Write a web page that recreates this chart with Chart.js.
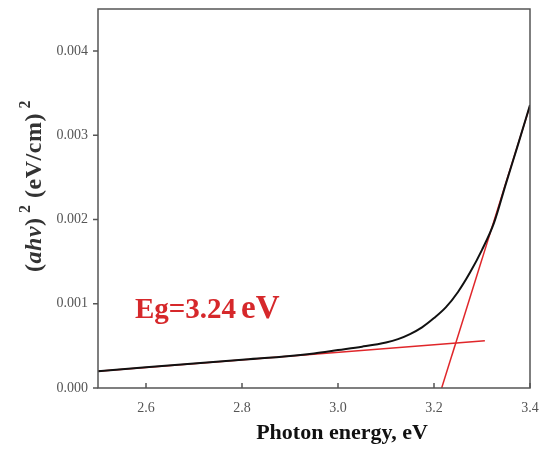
<!DOCTYPE html>
<html lang="en">
<head>
    <meta charset="UTF-8">
    <title>Tauc plot</title>
    <style>
        body, html {
            margin: 0;
            background: #fff;
        }
        #wrap {
            width: 539px;
            height: 450px;
        }
    </style>
</head>
<body>
    <div id="wrap"><canvas id="taucChart"></canvas></div>
    <script src="https://cdn.jsdelivr.net/npm/chart.js"></script>
    <script>
        // measured curve (photon energy in eV, (ahv)^2)
        const energy = [2.5, 2.6, 2.7, 2.8, 2.9, 2.95, 3.0, 3.05, 3.1, 3.125, 3.15, 3.175, 3.2, 3.225, 3.25, 3.275, 3.3, 3.325, 3.35, 3.375, 3.4];
        const absorb = [0.00020, 0.000245, 0.00029, 0.000335, 0.00038, 0.00041, 0.00045, 0.00049, 0.00054, 0.00058, 0.00064, 0.00072, 0.00083, 0.00096, 0.00114, 0.00137, 0.00164, 0.00196, 0.00243, 0.00289, 0.00336];

        // fitted lines (end points)
        const edgeFitX = [3.216, 3.4];
        const edgeFitY = [0, 0.00335];
        const baseFitX = [2.5, 3.306];
        const baseFitY = [0.0002, 0.00056];

        const xTicks = [2.6, 2.8, 3.0, 3.2, 3.4];
        const yTicks = [0, 0.001, 0.002, 0.003, 0.004];
        const gapLabel = 'Eg=3.24';

        const toPts = (xs, ys) => xs.map((x, i) => ({ x: x, y: ys[i] }));
        const serif = '"Liberation Serif", "Times New Roman", serif';

        const decor = {
            id: 'decor',
            afterDraw(chart) {
                const ctx = chart.ctx;
                const a = chart.chartArea;
                const xs = chart.scales.x;
                const ys = chart.scales.y;
                ctx.save();
                // frame
                ctx.strokeStyle = '#555';
                ctx.lineWidth = 1.5;
                ctx.strokeRect(a.left, a.top, a.right - a.left, a.bottom - a.top);
                // ticks: x inward, y outward
                ctx.beginPath();
                xTicks.forEach(v => {
                    const px = xs.getPixelForValue(v);
                    ctx.moveTo(px, a.bottom);
                    ctx.lineTo(px, a.bottom - 5);
                });
                yTicks.forEach(v => {
                    const py = ys.getPixelForValue(v);
                    ctx.moveTo(a.left, py);
                    ctx.lineTo(a.left - 5, py);
                });
                ctx.stroke();

                // x title
                ctx.fillStyle = '#111';
                ctx.font = 'bold 22px ' + serif;
                ctx.textAlign = 'center';
                ctx.textBaseline = 'middle';
                ctx.fillText('Photon energy, eV', 342, 433);

                // y title, rotated
                ctx.fillStyle = '#333';
                ctx.translate(41, 186);
                ctx.rotate(-Math.PI / 2);
                ctx.letterSpacing = '0.5px';
                const parts = [
                    { t: '(', f: 'bold 24px ' + serif, dy: 0 },
                    { t: 'ahv', f: 'italic bold 24px ' + serif, dy: 0 },
                    { t: ')', f: 'bold 24px ' + serif, dy: 0 },
                    { t: ' 2', f: 'bold 16px ' + serif, dy: -11 },
                    { t: ' (eV/cm)', f: 'bold 24px ' + serif, dy: 0 },
                    { t: ' 2', f: 'bold 16px ' + serif, dy: -11 }
                ];
                let total = 0;
                parts.forEach(p => { ctx.font = p.f; total += ctx.measureText(p.t).width; });
                let cx = -total / 2;
                ctx.textAlign = 'left';
                ctx.textBaseline = 'alphabetic';
                parts.forEach(p => {
                    ctx.font = p.f;
                    ctx.fillText(p.t, cx, p.dy);
                    cx += ctx.measureText(p.t).width;
                });
                ctx.restore();

                // band gap label
                ctx.save();
                ctx.fillStyle = '#d6282b';
                ctx.textAlign = 'left';
                ctx.textBaseline = 'alphabetic';
                ctx.font = 'bold 29px ' + serif;
                ctx.fillText(gapLabel, 135, 318);
                const w = ctx.measureText(gapLabel).width;
                ctx.font = 'bold 33px ' + serif;
                ctx.fillText('eV', 135 + w + 5, 318);
                ctx.restore();
            }
        };

        new Chart(document.getElementById('taucChart'), {
            type: 'scatter',
            data: {
                datasets: [
                    {
                        label: 'data',
                        data: toPts(energy, absorb),
                        showLine: true,
                        borderColor: '#111',
                        borderWidth: 2,
                        pointRadius: 0,
                        cubicInterpolationMode: 'monotone'
                    },
                    {
                        label: 'baseline fit',
                        data: toPts(baseFitX, baseFitY),
                        showLine: true,
                        borderColor: '#e0262a',
                        borderWidth: 1.5,
                        pointRadius: 0
                    },
                    {
                        label: 'edge fit',
                        data: toPts(edgeFitX, edgeFitY),
                        showLine: true,
                        borderColor: '#e0262a',
                        borderWidth: 1.5,
                        pointRadius: 0
                    }
                ]
            },
            options: {
                responsive: true,
                maintainAspectRatio: false,
                animation: false,
                layout: { padding: { top: 9, right: 9, left: 0, bottom: 0 } },
                plugins: {
                    legend: { display: false },
                    tooltip: { enabled: false }
                },
                scales: {
                    x: {
                        type: 'linear',
                        min: 2.5,
                        max: 3.4,
                        grid: { display: false },
                        border: { display: false },
                        afterBuildTicks: s => { s.ticks = xTicks.map(v => ({ value: v })); },
                        afterFit: s => { s.height = 62; s.paddingLeft = 0; s.paddingRight = 0; },
                        ticks: {
                            padding: 4,
                            color: '#555',
                            font: { family: serif, size: 14 },
                            maxRotation: 0,
                            callback: v => v.toFixed(1)
                        }
                    },
                    y: {
                        min: 0,
                        max: 0.0045,
                        grid: { display: false },
                        border: { display: false },
                        afterBuildTicks: s => { s.ticks = yTicks.map(v => ({ value: v })); },
                        afterFit: s => { s.width = 98; s.paddingTop = 0; s.paddingBottom = 0; },
                        ticks: {
                            padding: 2,
                            color: '#555',
                            font: { family: serif, size: 14 },
                            callback: v => v.toFixed(3)
                        }
                    }
                }
            },
            plugins: [decor]
        });
    </script>
</body>
</html>
